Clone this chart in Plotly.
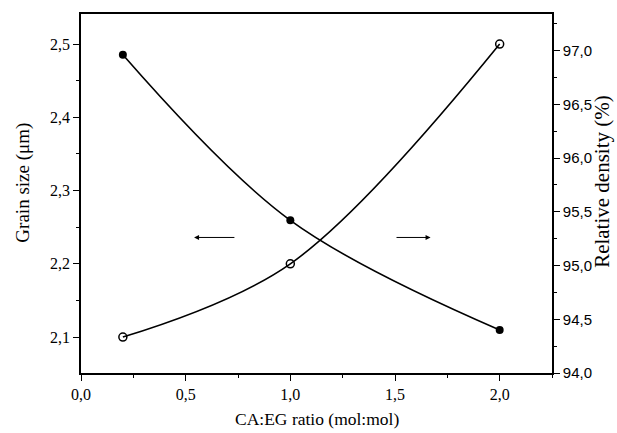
import plotly.graph_objects as go

ratio = [0.2, 1.0, 2.0]
grain_size = [2.10, 2.20, 2.50]          # open circles, left axis (µm)
rel_density = [96.96, 95.42, 94.40]      # filled circles, right axis (%)

x_ticks = [0.0, 0.5, 1.0, 1.5, 2.0]
y1_ticks = [2.1, 2.2, 2.3, 2.4, 2.5]
y2_ticks = [94.0, 94.5, 95.0, 95.5, 96.0, 96.5, 97.0]

serif = "Liberation Serif"
sans = "Liberation Sans"

fig = go.Figure()
fig.add_trace(go.Scatter(
    x=ratio, y=grain_size, mode="lines+markers",
    line=dict(color="black", width=1.6, shape="spline", smoothing=1.0),
    marker=dict(symbol="circle-open", size=8, color="black", line=dict(width=1.5)),
    yaxis="y", showlegend=False))
fig.add_trace(go.Scatter(
    x=ratio, y=rel_density, mode="lines+markers",
    line=dict(color="black", width=1.6, shape="spline", smoothing=1.0),
    marker=dict(symbol="circle", size=8, color="black"),
    yaxis="y2", showlegend=False))

fig.update_layout(
    width=617, height=433,
    margin=dict(l=81, r=65, t=12, b=60),
    paper_bgcolor="white", plot_bgcolor="white",
    separators=",.",
    xaxis=dict(range=[0, 2.25], tickvals=x_ticks, tickformat=".1f",
               showline=True, linecolor="black", linewidth=1.6, mirror=True,
               ticks="outside", ticklen=6, tickwidth=1.4, tickcolor="black",
               minor=dict(dtick=0.25, ticks="outside", ticklen=3, tickwidth=1.2, tickcolor="black"),
               showgrid=False, zeroline=False,
               tickfont=dict(family=serif, size=16, color="black")),
    yaxis=dict(range=[2.051, 2.541], tickvals=y1_ticks, tickformat=".1f",
               showline=True, linecolor="black", linewidth=1.6,
               ticks="outside", ticklen=6, tickwidth=1.4, tickcolor="black",
               minor=dict(dtick=0.05, ticks="outside", ticklen=3, tickwidth=1.2, tickcolor="black"),
               showgrid=False, zeroline=False,
               tickfont=dict(family=serif, size=16, color="black")),
    yaxis2=dict(range=[94.0, 97.34], tickvals=y2_ticks, tickformat=".1f",
                overlaying="y", side="right",
                showline=True, linecolor="black", linewidth=1.6,
                ticks="outside", ticklen=6, tickwidth=1.4, tickcolor="black",
                minor=dict(dtick=0.25, ticks="outside", ticklen=3, tickwidth=1.2, tickcolor="black"),
                showgrid=False, zeroline=False,
                tickfont=dict(family=sans, size=15, color="black")),
)

# axis titles
fig.add_annotation(text="Grain size (μm)", xref="paper", yref="paper",
                   x=-0.122, y=0.529, xanchor="center", yanchor="middle",
                   textangle=-90, showarrow=False,
                   font=dict(family=serif, size=19, color="black"))
fig.add_annotation(text="Relative density (%)", xref="paper", yref="paper",
                   x=1.106, y=0.535, xanchor="center", yanchor="middle",
                   textangle=-90, showarrow=False,
                   font=dict(family=serif, size=21, color="black"))
fig.add_annotation(text="CA:EG ratio (mol:mol)", xref="paper", yref="paper",
                   x=0.5, y=-0.128, xanchor="center", yanchor="middle", showarrow=False,
                   font=dict(family=serif, size=17.5, color="black"))

# arrows
fig.add_annotation(x=0.54, y=2.236, ax=0.74, ay=2.236, xref="x", yref="y",
                   axref="x", ayref="y", text="", showarrow=True,
                   arrowhead=2, arrowsize=1, arrowwidth=1, arrowcolor="black")
fig.add_annotation(x=1.67, y=2.236, ax=1.50, ay=2.236, xref="x", yref="y",
                   axref="x", ayref="y", text="", showarrow=True,
                   arrowhead=2, arrowsize=1, arrowwidth=1, arrowcolor="black")

fig.write_html("out.html")
